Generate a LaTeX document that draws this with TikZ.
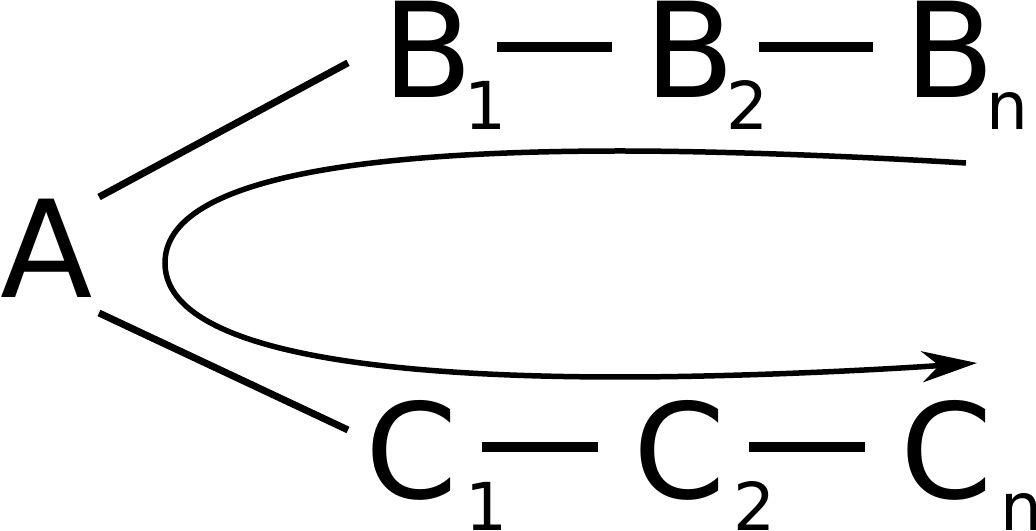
\documentclass[tikz,border=0pt]{standalone}
\usepackage{fontspec}
\setmainfont{DejaVu Sans}
\usepackage{tikz}
\usetikzlibrary{calc, arrows.meta}
\newcommand{\idx}[2][-0.08cm]{\kern#1\raisebox{-0.32cm}{\fontsize{18.8pt}{20pt}\selectfont #2}}

\begin{document}
\begin{tikzpicture}
\tikzstyle{atom}=[inner sep=0pt,outer sep=0pt,anchor=base west,font=\fontsize{37.6pt}{40pt}\selectfont]
\tikzstyle{bond}=[line width=0.105cm]
\tikzstyle{branch}=[line width=0.07cm]
\useasboundingbox (0,0) rectangle (10.36,5.31);
\node[atom,font=\fontsize{38.4pt}{40pt}\selectfont] (A) at (0,2.33) {A};
\node[atom] (B_1) at (3.82,4.33) {B\idx{1}};
\node[atom] (B_2) at (6.44,4.33) {B\idx{2}};
\node[atom] (B_n) at (9.04,4.33) {B\idx{n}};
\node[atom] (C_1) at (3.65,0.33) {C\idx[0.08cm]{1}};
\node[atom] (C_2) at (6.33,0.33) {C\idx[0.08cm]{2}};
\node[atom] (C_n) at (9.00,0.33) {C\idx[0.08cm]{n}};
\draw[branch] ([shift={(0.067,0.026)}]A.north east) -- ([shift={(-0.34,0.03)}]B_1.west);
\draw[branch] ([shift={(0.067,-0.15)}]A.south east) -- ([shift={(-0.17,0.35)}]C_1.west);
\draw[bond] ([shift={(-0.095,0.19)}]B_1.east) -- ([shift={(-0.32,0.19)}]B_2.west);
\draw[bond] ([shift={(-0.095,0.19)}]B_2.east) -- ([shift={(-0.31,0.19)}]B_n.west);
\draw[bond] ([shift={(-0.25,0.18)}]C_1.east) -- ([shift={(-0.35,0.18)}]C_2.west);
\draw[bond] ([shift={(-0.26,0.18)}]C_2.east) -- ([shift={(-0.35,0.18)}]C_n.west);
\draw[line width=0.055cm,-{Stealth[length=0.55cm,width=0.31cm,inset=0.17cm]}]
  (9.66,3.68) .. controls (8.5,3.75) and (7.2,3.80) .. (6.2,3.80)
  .. controls (3.5,3.80) and (1.65,3.5) .. (1.65,2.68)
  .. controls (1.65,1.86) and (3.5,1.54) .. (6.2,1.54)
  .. controls (7.3,1.54) and (8.6,1.60) .. (9.77,1.68);
\end{tikzpicture}
\end{document}
